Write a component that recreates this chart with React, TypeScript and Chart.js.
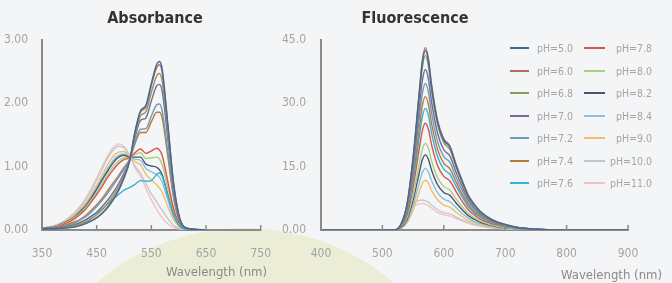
import React, { useEffect, useRef } from 'react';
import { Chart, registerables } from 'chart.js';

Chart.register(...registerables);

// ---------- legend / series meta ----------
const phLabels = ['pH=5.0', 'pH=6.0', 'pH=6.8', 'pH=7.0', 'pH=7.2', 'pH=7.4', 'pH=7.6', 'pH=7.8', 'pH=8.0', 'pH=8.2', 'pH=8.4', 'pH=9.0', 'pH=10.0', 'pH=11.0'];
const phColors = ['#3d6b99', '#b86a62', '#8c9a58', '#76689a', '#6f9bb5', '#b9793b', '#33b3d6', '#d9544a', '#a9d17c', '#4b5470', '#86c2de', '#f3bd6a', '#c3c6cc', '#f2c2c0'];

// ---------- absorbance ----------
const absWavelengths = [350, 370, 390, 410, 420, 430, 440, 450, 460, 470, 480, 490, 500, 510, 520, 530, 540, 550, 560, 565, 570, 580, 590, 600, 610, 630, 650];
const absPH50 = [0.02, 0.02, 0.03, 0.05, 0.07, 0.10, 0.14, 0.19, 0.26, 0.35, 0.47, 0.62, 0.82, 1.08, 1.55, 1.88, 1.97, 2.32, 2.62, 2.66, 2.53, 1.69, 0.79, 0.25, 0.05, 0.01, 0];
const absPH60 = [0.02, 0.02, 0.03, 0.05, 0.08, 0.11, 0.15, 0.20, 0.27, 0.37, 0.49, 0.64, 0.83, 1.08, 1.54, 1.86, 1.94, 2.28, 2.57, 2.61, 2.48, 1.66, 0.78, 0.25, 0.05, 0.01, 0];
const absPH68 = [0.02, 0.02, 0.04, 0.07, 0.10, 0.13, 0.18, 0.24, 0.32, 0.42, 0.54, 0.68, 0.86, 1.09, 1.50, 1.80, 1.87, 2.17, 2.44, 2.47, 2.34, 1.56, 0.73, 0.23, 0.05, 0.01, 0];
const absPH70 = [0.02, 0.03, 0.05, 0.08, 0.12, 0.16, 0.22, 0.28, 0.37, 0.47, 0.59, 0.73, 0.90, 1.10, 1.46, 1.73, 1.77, 2.04, 2.28, 2.30, 2.18, 1.45, 0.68, 0.22, 0.04, 0.01, 0];
const absPH72 = [0.02, 0.03, 0.06, 0.11, 0.16, 0.21, 0.28, 0.37, 0.47, 0.58, 0.70, 0.83, 0.96, 1.11, 1.39, 1.59, 1.60, 1.80, 1.98, 1.99, 1.87, 1.24, 0.58, 0.19, 0.04, 0.01, 0];
const absPH74 = [0.02, 0.03, 0.07, 0.13, 0.17, 0.23, 0.31, 0.40, 0.50, 0.62, 0.74, 0.86, 0.99, 1.11, 1.36, 1.54, 1.54, 1.71, 1.86, 1.86, 1.76, 1.17, 0.54, 0.17, 0.04, 0.01, 0];
const absPH76 = [0.02, 0.03, 0.05, 0.09, 0.12, 0.16, 0.21, 0.27, 0.33, 0.41, 0.49, 0.56, 0.63, 0.67, 0.72, 0.78, 0.77, 0.78, 0.88, 0.90, 0.84, 0.55, 0.26, 0.08, 0.02, 0, 0];
const absPH78 = [0.03, 0.04, 0.09, 0.18, 0.25, 0.33, 0.44, 0.56, 0.69, 0.83, 0.95, 1.05, 1.11, 1.14, 1.22, 1.28, 1.21, 1.25, 1.29, 1.26, 1.17, 0.77, 0.36, 0.12, 0.03, 0, 0];
const absPH80 = [0.03, 0.05, 0.10, 0.20, 0.27, 0.36, 0.47, 0.59, 0.73, 0.87, 1.00, 1.09, 1.14, 1.14, 1.19, 1.22, 1.13, 1.14, 1.15, 1.12, 1.03, 0.67, 0.31, 0.10, 0.02, 0, 0];
const absPH82 = [0.03, 0.05, 0.11, 0.21, 0.29, 0.38, 0.50, 0.64, 0.79, 0.93, 1.06, 1.15, 1.18, 1.15, 1.15, 1.15, 1.04, 1.01, 0.99, 0.95, 0.87, 0.56, 0.26, 0.09, 0.02, 0, 0];
const absPH84 = [0.03, 0.05, 0.11, 0.22, 0.31, 0.40, 0.53, 0.67, 0.82, 0.97, 1.10, 1.18, 1.20, 1.16, 1.12, 1.10, 0.97, 0.92, 0.87, 0.83, 0.75, 0.48, 0.22, 0.08, 0.02, 0, 0];
const absPH90 = [0.03, 0.05, 0.12, 0.24, 0.33, 0.43, 0.56, 0.71, 0.87, 1.03, 1.16, 1.23, 1.24, 1.16, 1.08, 1.03, 0.88, 0.79, 0.71, 0.66, 0.59, 0.37, 0.17, 0.06, 0.02, 0, 0];
const absPH100 = [0.03, 0.06, 0.13, 0.27, 0.36, 0.48, 0.62, 0.79, 0.96, 1.13, 1.26, 1.32, 1.30, 1.18, 1.01, 0.90, 0.73, 0.57, 0.44, 0.37, 0.31, 0.18, 0.08, 0.03, 0.01, 0, 0];
const absPH110 = [0.03, 0.06, 0.14, 0.28, 0.38, 0.50, 0.65, 0.82, 1.00, 1.17, 1.30, 1.36, 1.32, 1.18, 0.98, 0.85, 0.66, 0.48, 0.32, 0.25, 0.19, 0.10, 0.04, 0.02, 0.01, 0, 0];
const absSeries = [absPH50, absPH60, absPH68, absPH70, absPH72, absPH74, absPH76, absPH78, absPH80, absPH82, absPH84, absPH90, absPH100, absPH110];
const absYLabels = ['0.00', '1.00', '2.00', '3.00'];

// ---------- fluorescence ----------
const fluWavelengths = [400, 520, 530, 540, 550, 560, 565, 570, 575, 580, 590, 600, 610, 620, 630, 640, 650, 660, 680, 700, 720, 750, 800, 900];
const fluPH50 = [0, 0, 1.3, 6.0, 17.0, 32.3, 39.5, 42.5, 40.0, 34.0, 25.5, 21.3, 19.6, 15.3, 11.5, 8.1, 6.0, 4.3, 2.3, 1.3, 0.6, 0.2, 0, 0];
const fluPH60 = [0, 0, 1.3, 6.0, 17.3, 32.8, 40.2, 43.2, 40.6, 34.6, 25.9, 21.6, 19.9, 15.6, 11.7, 8.2, 6.0, 4.3, 2.4, 1.3, 0.6, 0.2, 0, 0];
const fluPH68 = [0, 0, 1.2, 5.8, 16.5, 31.4, 38.4, 41.3, 38.8, 33.0, 24.8, 20.7, 19.0, 14.9, 11.2, 7.8, 5.8, 4.1, 2.3, 1.2, 0.6, 0.2, 0, 0];
const fluPH70 = [0, 0, 1.1, 5.3, 15.2, 28.9, 35.3, 38.0, 35.7, 30.4, 22.8, 19.0, 17.5, 13.7, 10.3, 7.2, 5.3, 3.8, 2.1, 1.1, 0.6, 0.2, 0, 0];
const fluPH72 = [0, 0, 1.0, 4.9, 13.9, 26.4, 32.3, 34.7, 32.6, 27.8, 20.8, 17.4, 16.0, 12.5, 9.4, 6.6, 4.9, 3.5, 1.9, 1.0, 0.5, 0.2, 0, 0];
const fluPH74 = [0, 0, 0.9, 4.4, 12.6, 24.0, 29.4, 31.6, 29.7, 25.3, 19.0, 15.8, 14.5, 11.4, 8.5, 6.0, 4.4, 3.2, 1.7, 0.9, 0.5, 0.2, 0, 0];
const fluPH76 = [0, 0, 0.9, 4.0, 11.5, 21.9, 26.8, 28.8, 27.1, 23.0, 17.3, 14.4, 13.2, 10.4, 7.8, 5.5, 4.0, 2.9, 1.6, 0.9, 0.4, 0.1, 0, 0];
const fluPH78 = [0, 0, 0.8, 3.5, 10.1, 19.2, 23.5, 25.3, 23.8, 20.2, 15.2, 12.7, 11.6, 9.1, 6.8, 4.8, 3.5, 2.5, 1.4, 0.8, 0.4, 0.1, 0, 0];
const fluPH80 = [0, 0, 0.6, 2.9, 8.2, 15.6, 19.1, 20.5, 19.3, 16.4, 12.3, 10.3, 9.4, 7.4, 5.5, 3.9, 2.9, 2.1, 1.1, 0.6, 0.3, 0.1, 0, 0];
const fluPH82 = [0, 0, 0.5, 2.5, 7.1, 13.5, 16.6, 17.8, 16.7, 14.2, 10.7, 8.9, 8.2, 6.4, 4.8, 3.4, 2.5, 1.8, 1.0, 0.5, 0.3, 0.1, 0, 0];
const fluPH84 = [0, 0, 0.4, 2.0, 5.8, 11.1, 13.6, 14.6, 13.7, 11.7, 8.8, 7.3, 6.7, 5.3, 3.9, 2.8, 2.0, 1.5, 0.8, 0.4, 0.2, 0.1, 0, 0];
const fluPH90 = [0, 0, 0.4, 1.7, 4.7, 9.0, 11.0, 11.8, 11.1, 9.4, 7.1, 5.9, 5.4, 4.2, 3.2, 2.2, 1.7, 1.2, 0.6, 0.4, 0.2, 0.1, 0, 0];
const fluPH100 = [0, 0, 0.8, 4.8, 6.3, 7.0, 7.1, 6.9, 6.6, 5.9, 4.8, 4.1, 3.8, 3.1, 2.4, 1.8, 1.3, 1.0, 0.6, 0.3, 0.2, 0.1, 0, 0];
const fluPH110 = [0, 0, 0.7, 4.2, 5.6, 6.2, 6.3, 6.1, 5.8, 5.2, 4.2, 3.6, 3.3, 2.7, 2.1, 1.6, 1.2, 0.9, 0.5, 0.3, 0.2, 0.1, 0, 0];
const fluSeries = [fluPH50, fluPH60, fluPH68, fluPH70, fluPH72, fluPH74, fluPH76, fluPH78, fluPH80, fluPH82, fluPH84, fluPH90, fluPH100, fluPH110];
const fluYLabels = ['0.00', '15.0', '30.0', '45.0'];

// ---------- styles ----------
const FONT = '"DejaVu Sans Condensed", "Liberation Sans Narrow", "DejaVu Sans", sans-serif';
const AXIS_COLOR = '#8b8b8b';
const TICK_COLOR = '#a3a3a3';

const innerTicks = {
  id: 'innerTicks',
  afterDraw(chart: any) {
    const xs = chart.scales.x;
    const ctx = chart.ctx;
    const bottom = chart.chartArea.bottom;
    ctx.save();
    ctx.strokeStyle = AXIS_COLOR;
    ctx.lineWidth = 1.5;
    xs.ticks.forEach((t: any) => {
      const px = xs.getPixelForValue(t.value);
      ctx.beginPath();
      ctx.moveTo(px, bottom - 5);
      ctx.lineTo(px, bottom + 1);
      ctx.stroke();
    });
    ctx.restore();
  },
};

function buildConfig(opts: {
  wl: number[]; series: number[][]; xmin: number; xmax: number; ymax: number; ystep: number;
  yLabels: string[]; yWidth: number; padRight: number; yPad: number;
}) {
  return {
    type: 'line' as const,
    data: {
      datasets: opts.series.map((vals, i) => ({
        label: phLabels[i],
        data: vals.map((v, j) => ({ x: opts.wl[j], y: v })),
        borderColor: phColors[i],
        backgroundColor: phColors[i],
        borderWidth: 1.4,
        pointRadius: 0,
        cubicInterpolationMode: 'monotone' as const,
        fill: false,
      })),
    },
    options: {
      responsive: false,
      animation: false as const,
      events: [],
      layout: { padding: { top: 40, right: opts.padRight, left: 0, bottom: 0 } },
      plugins: { legend: { display: false }, title: { display: false }, tooltip: { enabled: false } },
      scales: {
        x: {
          type: 'linear' as const,
          min: opts.xmin,
          max: opts.xmax,
          ticks: { stepSize: 100, color: TICK_COLOR, font: { family: FONT, size: 12 }, padding: 9, maxRotation: 0, autoSkip: false },
          grid: { display: false },
          border: { display: true, color: AXIS_COLOR, width: 2 },
          afterFit: (s: any) => { s.height = 53; },
        },
        y: {
          min: 0,
          max: opts.ymax,
          ticks: {
            stepSize: opts.ystep,
            color: TICK_COLOR,
            font: { family: FONT, size: 12 },
            padding: opts.yPad,
            callback: (_v: any, idx: number) => opts.yLabels[idx],
          },
          grid: { display: false },
          border: { display: true, color: AXIS_COLOR, width: 2 },
          afterFit: (s: any) => { s.width = opts.yWidth; },
        },
      },
    },
    plugins: [innerTicks],
  };
}

export default function App() {
  const absRef = useRef<HTMLCanvasElement>(null);
  const fluRef = useRef<HTMLCanvasElement>(null);

  useEffect(() => {
    const a = new Chart(absRef.current as HTMLCanvasElement, buildConfig({
      wl: absWavelengths, series: absSeries, xmin: 350, xmax: 750, ymax: 3, ystep: 1,
      yLabels: absYLabels, yWidth: 42, padRight: 17, yPad: 6,
    }) as any);
    const f = new Chart(fluRef.current as HTMLCanvasElement, buildConfig({
      wl: fluWavelengths, series: fluSeries, xmin: 400, xmax: 900, ymax: 45, ystep: 15,
      yLabels: fluYLabels, yWidth: 41, padRight: 44, yPad: 7,
    }) as any);
    return () => { a.destroy(); f.destroy(); };
  }, []);

  const col1 = [0, 1, 2, 3, 4, 5, 6];
  const col2 = [7, 8, 9, 10, 11, 12, 13];
  const rowY = [48, 70.5, 93, 115.5, 138, 160.5, 183];

  return (
    <div style={{ position: 'fixed', left: 0, top: 0, width: 672, height: 283, overflow: 'hidden', background: '#f4f5f7', fontFamily: FONT }}>
      <div style={{ position: 'absolute', left: 15, top: 228, width: 460, height: 460, borderRadius: '50%', background: '#ebedd6' }} />
      <canvas ref={absRef} width={280} height={283} style={{ position: 'absolute', left: 0, top: 0, width: 280, height: 283 }} />
      <canvas ref={fluRef} width={392} height={283} style={{ position: 'absolute', left: 280, top: 0, width: 392, height: 283 }} />
      <div style={{ position: 'absolute', left: 55, width: 200, top: 8, textAlign: 'center', fontWeight: 'bold', fontSize: 16, lineHeight: '20px', color: '#333' }}>Absorbance</div>
      <div style={{ position: 'absolute', left: 315, width: 200, top: 8, textAlign: 'center', fontWeight: 'bold', fontSize: 16, lineHeight: '20px', color: '#333' }}>Fluorescence</div>
      <div style={{ position: 'absolute', right: 672 - 267, top: 264, fontSize: 13, lineHeight: '16px', color: '#8a8a8a', whiteSpace: 'nowrap' }}>Wavelength (nm)</div>
      <div style={{ position: 'absolute', right: 672 - 662, top: 267, fontSize: 13, lineHeight: '16px', color: '#8a8a8a', whiteSpace: 'nowrap' }}>Wavelength (nm)</div>
      {col1.map((i, r) => (
        <React.Fragment key={'a' + i}>
          <div style={{ position: 'absolute', left: 510, top: rowY[r] - 1, width: 19, height: 2, background: phColors[i] }} />
          <div style={{ position: 'absolute', left: 537, top: rowY[r] - 7, fontSize: 10.5, lineHeight: '14px', color: '#a5a5a5', whiteSpace: 'nowrap' }}>{phLabels[i]}</div>
        </React.Fragment>
      ))}
      {col2.map((i, r) => (
        <React.Fragment key={'b' + i}>
          <div style={{ position: 'absolute', left: 584, top: rowY[r] - 1, width: 21, height: 2, background: phColors[i] }} />
          <div style={{ position: 'absolute', right: 672 - 652, top: rowY[r] - 7, fontSize: 10.5, lineHeight: '14px', color: '#a5a5a5', whiteSpace: 'nowrap' }}>{phLabels[i]}</div>
        </React.Fragment>
      ))}
    </div>
  );
}
